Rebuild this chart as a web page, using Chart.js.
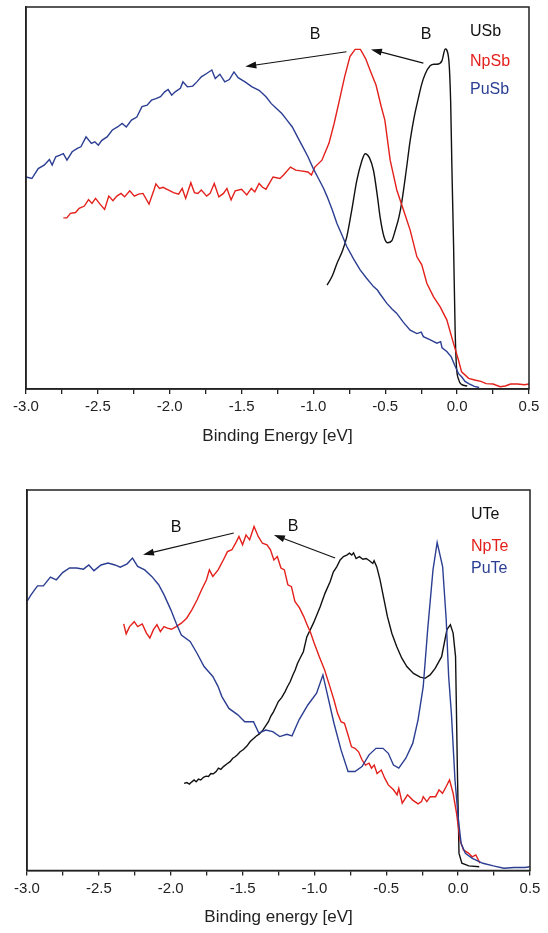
<!DOCTYPE html>
<html>
<head>
<meta charset="utf-8">
<script src="https://cdn.jsdelivr.net/npm/chart.js@4.4.1/dist/chart.umd.min.js"></script>
<style>
  body { margin: 0; background: #fff; }
  .panel { position: absolute; left: 0; width: 548px; }
</style>
</head>
<body>
<div class="panel" style="top:0;height:460px"><canvas id="sbChart" width="548" height="460"></canvas></div>
<div class="panel" style="top:470px;height:463px"><canvas id="teChart" width="548" height="463"></canvas></div>
<script>
// ---- top panel: antimonides ----
const usbX = [-0.905,-0.87,-0.837,-0.80,-0.768,-0.733,-0.698,-0.665,-0.64,-0.61,-0.582,-0.555,-0.536,-0.51,-0.485,-0.455,-0.431,-0.405,-0.385,-0.355,-0.327,-0.30,-0.269,-0.245,-0.223,-0.188,-0.16,-0.141,-0.106,-0.083,-0.06,-0.045,-0.037,-0.025,-0.014,-0.005,0.01,0.03,0.07];
const usbY = [27.2,29.5,32.8,36.0,39.8,46.9,54.6,59.5,61.6,60.5,57.2,50.5,45.0,40.0,38.3,38.8,41.5,45.0,49.0,57.0,65.0,71.0,76.3,80.0,82.4,84.6,85.0,85.0,85.9,89.0,86.8,75.0,58.9,38.0,15.4,6.0,2.5,1.2,0.8];

const npsbX = [-2.74,-2.716,-2.691,-2.655,-2.63,-2.594,-2.565,-2.541,-2.516,-2.485,-2.453,-2.424,-2.395,-2.368,-2.339,-2.314,-2.278,-2.246,-2.217,-2.186,-2.144,-2.108,-2.096,-2.071,-2.047,-2.011,-1.974,-1.938,-1.913,-1.889,-1.853,-1.828,-1.804,-1.78,-1.743,-1.719,-1.69,-1.658,-1.626,-1.602,-1.573,-1.544,-1.5,-1.464,-1.432,-1.408,-1.378,-1.354,-1.33,-1.281,-1.233,-1.208,-1.16,-1.123,-1.087,-1.038,-1.014,-0.99,-0.941,-0.892,-0.856,-0.819,-0.783,-0.746,-0.71,-0.673,-0.637,-0.601,-0.564,-0.528,-0.503,-0.466,-0.42,-0.374,-0.327,-0.28,-0.246,-0.211,-0.165,-0.118,-0.072,-0.026,0.009,0.031,0.08,0.129,0.165,0.202,0.25,0.299,0.335,0.372,0.42,0.469,0.5];
const npsbY = [44.8,44.8,46.0,46.2,47.3,47.9,49.6,48.6,49.9,48.4,47.0,50.5,49.3,50.5,51.2,50.3,51.9,50.5,51.0,51.2,48.4,52.3,53.7,52.5,52.8,52.1,51.4,51.0,52.5,49.9,54.0,51.4,51.2,52.1,50.5,51.2,53.8,50.3,51.2,52.5,49.5,51.9,52.3,50.8,52.5,51.6,53.8,52.8,52.3,55.5,55.1,56.0,58.1,57.3,57.1,56.8,56.0,58.1,59.9,64.3,69.5,75.6,81.7,87.0,88.9,88.9,86.5,83.0,79.5,73.9,70.4,59.9,52.1,46.9,41.6,34.6,32.5,27.7,24.2,21.5,18.1,12.0,7.6,4.5,2.8,2.3,2.0,1.4,1.3,0.6,0.8,1.3,1.3,1.1,1.3];

const pusbX = [-3.0,-2.959,-2.915,-2.874,-2.837,-2.818,-2.793,-2.764,-2.74,-2.715,-2.679,-2.643,-2.618,-2.582,-2.545,-2.521,-2.497,-2.472,-2.436,-2.399,-2.363,-2.331,-2.302,-2.266,-2.229,-2.193,-2.157,-2.127,-2.096,-2.064,-2.035,-2.011,-1.986,-1.962,-1.926,-1.908,-1.877,-1.84,-1.811,-1.78,-1.743,-1.707,-1.683,-1.651,-1.617,-1.585,-1.553,-1.524,-1.476,-1.427,-1.378,-1.33,-1.293,-1.257,-1.22,-1.184,-1.147,-1.111,-1.074,-1.038,-1.001,-0.965,-0.929,-0.904,-0.87,-0.837,-0.8,-0.768,-0.72,-0.675,-0.63,-0.582,-0.555,-0.535,-0.489,-0.455,-0.42,-0.375,-0.327,-0.28,-0.25,-0.235,-0.19,-0.141,-0.115,-0.105,-0.072,-0.041,-0.017,0.01,0.031,0.055,0.08,0.12,0.153];
const pusbY = [55.5,55.1,57.7,58.6,60.1,58.6,60.8,61.2,61.6,59.9,62.1,63.0,63.4,66.0,64.3,64.7,63.8,65.1,66.0,67.8,68.6,69.5,68.6,70.4,71.2,73.9,74.3,75.6,76.0,76.5,77.8,78.4,76.9,77.8,78.7,80.4,79.1,79.3,80.4,81.7,82.6,83.5,81.3,82.4,80.4,81.0,83.0,81.5,80.4,79.1,78.2,76.5,74.7,73.4,72.1,70.4,68.6,66.0,63.4,60.8,57.7,55.1,52.5,50.3,47.0,43.4,40.2,37.3,34.0,31.2,29.0,26.8,25.9,24.8,22.4,21.0,19.8,17.5,15.4,14.5,14.9,13.7,12.9,12.0,12.4,10.8,9.8,8.4,6.2,4.0,3.2,2.0,1.4,0.7,0.4];

// ---- bottom panel: tellurides ----
const uteX = [-1.907,-1.888,-1.870,-1.853,-1.837,-1.823,-1.807,-1.791,-1.772,-1.754,-1.737,-1.721,-1.703,-1.684,-1.668,-1.651,-1.633,-1.610,-1.587,-1.568,-1.552,-1.536,-1.517,-1.494,-1.470,-1.447,-1.429,-1.406,-1.383,-1.359,-1.336,-1.320,-1.303,-1.285,-1.267,-1.251,-1.227,-1.204,-1.188,-1.169,-1.150,-1.134,-1.118,-1.100,-1.077,-1.053,-1.007,-0.960,-0.926,-0.891,-0.868,-0.845,-0.821,-0.798,-0.775,-0.756,-0.740,-0.728,-0.710,-0.687,-0.663,-0.640,-0.617,-0.594,-0.585,-0.566,-0.543,-0.520,-0.492,-0.461,-0.427,-0.392,-0.357,-0.311,-0.264,-0.230,-0.195,-0.160,-0.115,-0.078,-0.054,-0.035,-0.018,-0.004,0.006,0.026,0.074,0.147];
const uteY = [22.9,23.1,22.7,23.3,23.8,23.3,24.0,23.8,24.5,24.8,24.7,25.5,25.4,26.0,26.9,26.6,27.3,28.0,28.6,29.5,29.9,30.4,31.2,31.8,32.7,33.9,34.5,35.3,35.9,36.9,38.2,39.1,40.6,41.7,43.1,44.4,45.5,47.0,48.3,49.6,51.4,52.7,54.4,55.8,57.5,61.4,65.0,69.3,72.9,75.9,78.5,79.8,81.6,82.5,82.9,83.4,82.9,83.5,82.0,82.5,81.8,82.0,81.4,80.7,81.4,79.8,76.3,72.0,66.7,62.3,58.8,55.8,53.6,51.8,50.8,50.5,51.4,53.1,56.2,63.3,64.6,62.4,56.2,23.8,4.5,1.9,1.2,1.0];

const npteX = [-2.327,-2.31,-2.286,-2.254,-2.23,-2.198,-2.169,-2.145,-2.12,-2.096,-2.072,-2.047,-2.023,-1.994,-1.962,-1.926,-1.889,-1.853,-1.817,-1.785,-1.751,-1.731,-1.707,-1.67,-1.634,-1.605,-1.574,-1.542,-1.525,-1.5,-1.476,-1.451,-1.42,-1.391,-1.362,-1.33,-1.306,-1.282,-1.258,-1.233,-1.209,-1.185,-1.16,-1.136,-1.104,-1.075,-1.051,-1.026,-1.002,-0.966,-0.929,-0.893,-0.864,-0.839,-0.815,-0.791,-0.766,-0.742,-0.718,-0.693,-0.669,-0.645,-0.62,-0.603,-0.584,-0.564,-0.535,-0.51,-0.486,-0.45,-0.425,-0.413,-0.389,-0.352,-0.316,-0.279,-0.255,-0.243,-0.218,-0.194,-0.157,-0.133,-0.109,-0.084,-0.06,-0.035,-0.011,0.013,0.037,0.074,0.098,0.123,0.152];
const npteY = [64.8,62.2,64.1,65.4,64.1,64.8,62.4,61.1,63.3,64.6,62.8,64.1,63.7,63.4,64.1,65.0,66.3,68.5,71.1,73.8,76.4,79.0,77.3,79.0,81.6,83.8,84.3,86.5,87.8,85.6,88.2,86.9,90.4,87.8,86.0,85.6,84.3,81.6,82.5,79.5,79.0,75.1,74.6,70.7,69.0,66.8,64.6,62.4,59.8,56.2,52.7,48.4,44.8,41.3,39.1,38.7,35.6,32.5,32.1,31.2,29.1,27.7,28.2,26.9,27.7,25.5,26.4,24.2,22.5,21.2,19.9,21.6,17.7,19.9,18.5,17.5,18.1,19.4,18.1,19.4,19.4,21.2,20.3,22.0,23.8,20.3,15.0,8.0,5.4,4.5,3.6,4.1,1.9];

const puteX = [-3.0,-2.971,-2.927,-2.886,-2.837,-2.796,-2.752,-2.704,-2.655,-2.607,-2.57,-2.534,-2.485,-2.436,-2.388,-2.351,-2.303,-2.266,-2.23,-2.181,-2.132,-2.084,-2.047,-1.999,-1.962,-1.926,-1.865,-1.817,-1.768,-1.707,-1.671,-1.644,-1.595,-1.533,-1.485,-1.424,-1.387,-1.339,-1.29,-1.241,-1.192,-1.156,-1.107,-1.046,-0.985,-0.941,-0.912,-0.864,-0.815,-0.766,-0.718,-0.669,-0.62,-0.572,-0.523,-0.486,-0.45,-0.413,-0.364,-0.316,-0.279,-0.243,-0.212,-0.175,-0.146,-0.108,-0.083,-0.066,-0.047,-0.022,0.002,0.021,0.05,0.099,0.172,0.245,0.318,0.39,0.464,0.5];
const puteY = [70.7,72.5,74.8,74.8,77.1,76.4,78.3,79.5,79.5,79.2,80.3,78.8,80.3,80.8,80.3,79.7,80.6,82.1,79.9,79.0,77.3,75.1,72.5,68.5,65.0,61.9,60.2,57.1,53.6,51.0,48.4,45.7,42.6,40.9,39.1,39.1,36.1,36.9,36.5,35.2,35.8,35.4,39.6,43.5,46.6,51.4,46.6,38.7,31.7,26.0,26.0,27.3,30.4,32.1,32.1,30.8,27.7,26.9,29.5,33.4,39.6,48.3,63.3,79.0,86.2,79.9,65.9,51.0,41.3,23.8,13.3,7.1,4.5,3.2,1.9,1.2,0.6,0.8,0.8,1.0];

// annotation arrows [x1, y1, x2, y2] (head at second point) and "B" labels [x, y]
const sbArrows = [[-0.77, 88.3, -1.474, 84.4], [-0.235, 85.3, -0.60, 88.9]];
const sbLabels = [[-0.989, 92.7], [-0.216, 92.7]];
const teArrows = [[-1.561, 88.7, -2.193, 83.0], [-0.856, 82.1, -1.282, 88.2]];
const teLabels = [[-1.962, 90.0], [-1.148, 90.4]];

const RED = '#e3201b', BLUE = '#2b3e92', BLACK = '#111';
const FONT = "'Liberation Sans', Arial, sans-serif";

function pts(xs, ys) {
    return xs.map((x, i) => ({ x: x, y: ys[i] }));
}

function drawArrow(ctx, x1, y1, x2, y2) {
    const ang = Math.atan2(y2 - y1, x2 - x1);
    const len = 11, half = 3.5;
    ctx.beginPath();
    ctx.moveTo(x1, y1);
    ctx.lineTo(x2 - Math.cos(ang) * len * 0.8, y2 - Math.sin(ang) * len * 0.8);
    ctx.stroke();
    ctx.beginPath();
    ctx.moveTo(x2, y2);
    ctx.lineTo(x2 - len * Math.cos(ang) + half * Math.sin(ang), y2 - len * Math.sin(ang) - half * Math.cos(ang));
    ctx.lineTo(x2 - len * Math.cos(ang) - half * Math.sin(ang), y2 - len * Math.sin(ang) + half * Math.cos(ang));
    ctx.closePath();
    ctx.fill();
}

// box frame, arrows, B labels and the text legend
function notesPlugin(arrows, labels, legend) {
    return {
        id: 'notes',
        afterDatasetsDraw(chart) {
            const { ctx, chartArea: a, scales: { x, y } } = chart;
            ctx.save();
            ctx.strokeStyle = '#222';
            ctx.lineWidth = 1.5;
            ctx.strokeRect(a.left, a.top, a.right - a.left, a.bottom - a.top);

            ctx.strokeStyle = '#111';
            ctx.fillStyle = '#111';
            ctx.lineWidth = 1.1;
            arrows.forEach(ar => {
                drawArrow(ctx, x.getPixelForValue(ar[0]), y.getPixelForValue(ar[1]),
                    x.getPixelForValue(ar[2]), y.getPixelForValue(ar[3]));
            });

            ctx.font = '16px ' + FONT;
            ctx.textAlign = 'center';
            ctx.textBaseline = 'middle';
            labels.forEach(l => ctx.fillText('B', x.getPixelForValue(l[0]), y.getPixelForValue(l[1])));

            ctx.textAlign = 'left';
            legend.forEach(item => {
                ctx.fillStyle = item.color;
                ctx.fillText(item.text, a.right - 59, a.top + item.dy);
            });
            ctx.restore();
        }
    };
}

function makeChart(id, sets, axisTitle, pad, axisHeight, yWidth, plugin) {
    return new Chart(document.getElementById(id), {
        type: 'line',
        data: {
            datasets: sets.map(s => ({
                data: s.data,
                borderColor: s.color,
                borderWidth: 1.4,
                pointRadius: 0,
                fill: false,
                tension: 0,
                cubicInterpolationMode: s.smooth ? 'monotone' : 'default'
            }))
        },
        options: {
            responsive: false,
            animation: false,
            devicePixelRatio: 1,
            layout: { padding: pad },
            plugins: { legend: { display: false }, tooltip: { enabled: false } },
            scales: {
                x: {
                    type: 'linear',
                    min: -3,
                    max: 0.5,
                    afterFit: s => { s.height = axisHeight; },
                    ticks: {
                        stepSize: 0.25,
                        autoSkip: false,
                        maxRotation: 0,
                        padding: 4,
                        color: '#222',
                        font: { family: FONT, size: 15 },
                        callback: v => {
                            if (Math.abs(v * 2 - Math.round(v * 2)) > 1e-6) return '';
                            return Math.abs(v) < 1e-9 ? '0.0' : Number(v).toFixed(1);
                        }
                    },
                    grid: { display: true, drawOnChartArea: false, drawTicks: true, tickLength: 5, color: '#222', lineWidth: 1.3 },
                    border: { display: true, color: '#222', width: 1.5 },
                    title: {
                        display: true,
                        text: axisTitle,
                        color: '#222',
                        font: { family: FONT, size: 17 },
                        padding: { top: 0, bottom: 0 }
                    }
                },
                y: {
                    min: 0,
                    max: 100,
                    afterFit: s => { s.width = yWidth; },
                    ticks: { display: false },
                    grid: { display: false },
                    border: { display: true, color: '#222', width: 1.5 }
                }
            }
        },
        plugins: [plugin]
    });
}

makeChart('sbChart', [
    { data: pts(pusbX, pusbY), color: BLUE },
    { data: pts(npsbX, npsbY), color: RED },
    { data: pts(usbX, usbY), color: BLACK, smooth: true }
], 'Binding Energy [eV]', { left: 0, right: 19, top: 7, bottom: 13 }, 58, 26,
    notesPlugin(sbArrows, sbLabels, [
        { text: 'USb', color: BLACK, dy: 25 },
        { text: 'NpSb', color: RED, dy: 55 },
        { text: 'PuSb', color: BLUE, dy: 83 }
    ]));

makeChart('teChart', [
    { data: pts(puteX, puteY), color: BLUE },
    { data: pts(npteX, npteY), color: RED },
    { data: pts(uteX, uteY), color: BLACK }
], 'Binding energy [eV]', { left: 0, right: 18, top: 20, bottom: 5 }, 57.5, 27,
    notesPlugin(teArrows, teLabels, [
        { text: 'UTe', color: BLACK, dy: 25 },
        { text: 'NpTe', color: RED, dy: 57 },
        { text: 'PuTe', color: BLUE, dy: 79 }
    ]));
</script>
</body>
</html>
